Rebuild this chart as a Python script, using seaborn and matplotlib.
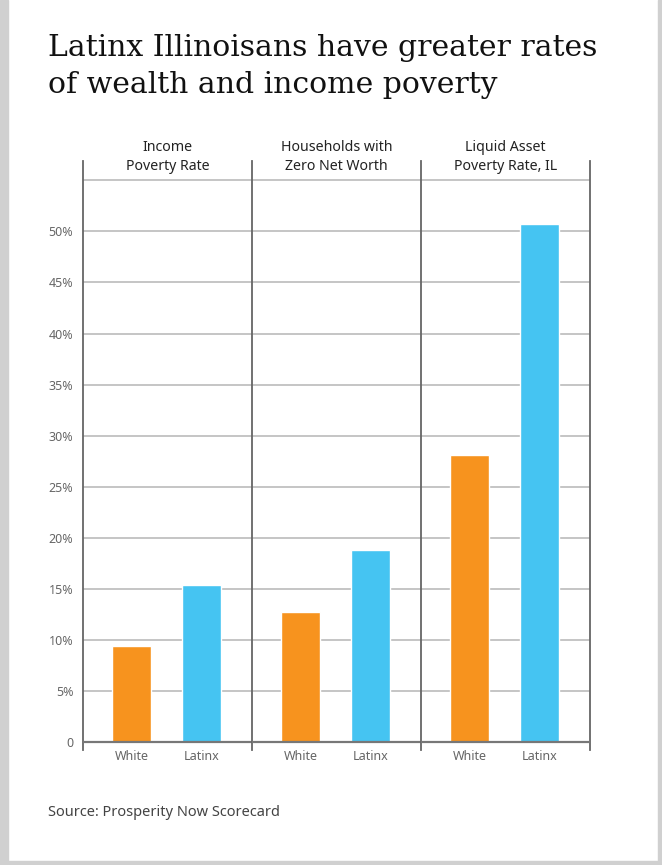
import numpy as np
import matplotlib.pyplot as plt
import matplotlib.transforms as mtransforms
import pandas as pd
import seaborn as sns
from matplotlib.patches import Rectangle
from matplotlib.ticker import MultipleLocator, FuncFormatter

sns.set_style('white')
plt.rcParams['font.family'] = ['Noto Sans', 'DejaVu Sans']

# data
panels = ['Income\nPoverty Rate', 'Households with\nZero Net Worth', 'Liquid Asset\nPoverty Rate, IL']
groups = ['White', 'Latinx']
white_vals = [9.4, 12.7, 28.1]
latinx_vals = [15.4, 18.8, 50.7]
colors = {'White': '#F7931E', 'Latinx': '#45C4F2'}

title = 'Latinx Illinoisans have greater rates\nof wealth and income poverty'
source = 'Source: Prosperity Now Scorecard'

fig = plt.figure(figsize=(6.62, 8.65), dpi=100)
fig.patch.set_facecolor('white')

# gray frame round the card
fig.patches.append(Rectangle((0, 0), 8/662, 1, transform=fig.transFigure, color='#d0d0d0', zorder=0))
fig.patches.append(Rectangle((1 - 4/662, 0), 4/662, 1, transform=fig.transFigure, color='#d0d0d0', zorder=0))
fig.patches.append(Rectangle((0, 0), 1, 4/865, transform=fig.transFigure, color='#d0d0d0', zorder=0))

left, right = 83/662, 590/662
bottom, top = 1 - 750/865, 1 - 161/865
w = (right - left) / 3

for i, name in enumerate(panels):
    ax = fig.add_axes([left + i*w, bottom, w, top - bottom])
    df = pd.DataFrame({'group': groups, 'value': [white_vals[i], latinx_vals[i]]})
    sns.barplot(data=df, x='group', y='value', hue='group', palette=colors,
                width=0.56, saturation=1, legend=False, ax=ax, zorder=3)
    ax.set_xlim(-0.69, 1.72)
    ax.set_ylim(-0.8, 56.9)
    ax.set_xlabel('')
    ax.set_ylabel('')
    ax.set_facecolor('white')

    for y in range(5, 60, 5):
        ax.axhline(y, color='#b5b5b5', lw=1.1, zorder=1)
    ax.axhline(0, color='#777777', lw=1.6, zorder=4)

    ax.yaxis.set_minor_locator(MultipleLocator(2.5))
    ax.set_yticks(list(range(0, 55, 5)))
    ax.yaxis.set_major_formatter(FuncFormatter(lambda v, p: '0' if v == 0 else f'{v:.0f}%'))
    ax.tick_params(axis='y', which='major', length=0, pad=7, labelsize=9, labelcolor='#666666')
    ax.tick_params(axis='y', which='minor', length=3, direction='in', color='#999999', width=0.8)
    ax.tick_params(axis='x', length=0, pad=0, labelsize=9, labelcolor='#666666')
    if i > 0:
        ax.tick_params(axis='y', which='major', labelleft=False)

    for s in ['top', 'bottom']:
        ax.spines[s].set_visible(False)
    ax.spines['left'].set_color('#666666')
    ax.spines['left'].set_linewidth(1.3)
    if i == 2:
        ax.spines['right'].set_color('#666666')
        ax.spines['right'].set_linewidth(1.3)
    else:
        ax.spines['right'].set_visible(False)

    trans = mtransforms.blended_transform_factory(ax.transAxes, ax.transData)
    ax.text(0.5, 55.6, name, transform=trans, ha='center', va='bottom',
            fontsize=10.2, color='#222222', linespacing=1.35)

fig.text(48/662, 1 - 34/865, title, ha='left', va='top', fontsize=21.5,
         family=['DejaVu Serif'], color='#111111', linespacing=1.42)
fig.text(48/662, 1 - 812/865, source, ha='left', va='center', fontsize=10.5, color='#444444')

fig.savefig('out.png', dpi=100)
